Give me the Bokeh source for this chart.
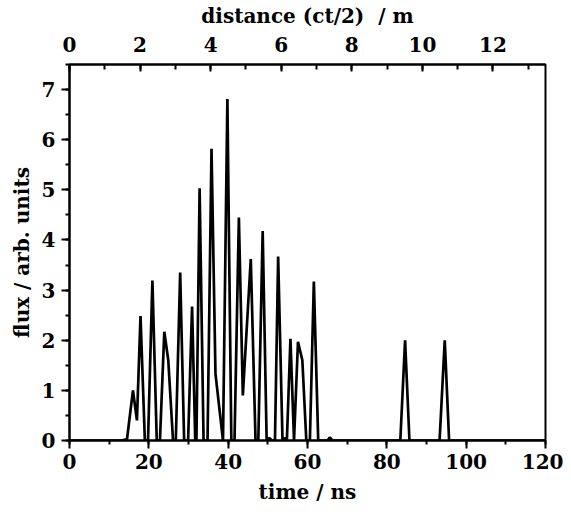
from bokeh.plotting import figure
from bokeh.models import LinearAxis, Range1d, FixedTicker
from bokeh.embed import file_html
from bokeh.resources import INLINE

# data (time in ns, flux in arb. units)
time_ns = [0, 13.2, 14.5, 16.0, 17.0, 17.9, 19.0, 19.8, 20.9, 22.0, 22.8, 23.9, 24.9, 26.1,
           26.8, 27.9, 28.9, 29.9, 30.9, 31.7, 32.0, 32.8, 33.8, 34.8, 35.8, 36.8, 38.7,
           39.8, 40.8, 41.6, 42.7, 43.7, 45.7, 46.9, 47.6, 48.7, 49.7, 50.4, 51.0, 51.8,
           52.6, 53.7, 54.2, 54.8, 55.7, 56.6, 57.6, 58.7, 59.7, 60.6, 61.6, 62.7, 65.0,
           65.6, 66.3, 83.4, 84.6, 85.7, 93.3, 94.6, 95.7, 120]
flux = [0, 0, 0.03, 1.0, 0.4, 2.48, 0, 0, 3.19, 0, 0, 2.17, 1.6, 0,
        0, 3.35, 0, 0, 2.67, 0, 0, 5.03, 0, 0, 5.82, 1.33, 0,
        6.81, 0, 0, 4.45, 0.9, 3.62, 0, 0, 4.18, 0, 0.05, 0, 0,
        3.67, 0, 0.05, 0, 2.03, 0, 1.97, 1.6, 0, 0, 3.17, 0, 0,
        0.06, 0, 0, 2.0, 0, 0, 2.0, 0, 0]

x_ticks = [0, 20, 40, 60, 80, 100, 120]
y_ticks = [0, 1, 2, 3, 4, 5, 6, 7]
dist_ticks = [0, 2, 4, 6, 8, 10, 12]
m_per_ns = 0.1124  # ct/2 in water

FONT = "DejaVu Serif"

p = figure(width=563, height=507, output_backend="svg", toolbar_location=None,
           x_range=Range1d(0, 120), y_range=Range1d(0, 7.5),
           min_border_left=69, min_border_right=18, min_border_top=64, min_border_bottom=67)
p.extra_x_ranges = {"dist": Range1d(0, 120 * m_per_ns)}

p.line(time_ns, flux, line_color="black", line_width=2.7)

p.grid.visible = False
p.outline_line_color = "black"
p.outline_line_width = 2
p.background_fill_color = "white"
p.border_fill_color = "white"

xa = p.below[0]
ya = p.left[0]
xa.axis_label = "time / ns"
ya.axis_label = "flux / arb. units"

top = LinearAxis(x_range_name="dist", axis_label="distance (ct/2) \u00a0/ m")
p.add_layout(top, "above")

for ax in [xa, ya, top]:
    ax.axis_line_width = 2
    ax.axis_line_color = "black"
    ax.major_tick_line_width = 2
    ax.minor_tick_line_width = 2
    ax.major_tick_line_color = "black"
    ax.minor_tick_line_color = "black"
    ax.major_label_text_font = FONT
    ax.major_label_text_font_style = "bold"
    ax.major_label_text_font_size = "20px"
    ax.major_label_text_color = "black"
    ax.axis_label_text_font = FONT
    ax.axis_label_text_font_style = "bold"
    ax.axis_label_text_font_size = "20px"
    ax.axis_label_text_color = "black"

xa.ticker = FixedTicker(ticks=x_ticks, minor_ticks=list(range(0, 121, 10)))
xa.major_tick_out = 8
xa.major_tick_in = 0
xa.minor_tick_out = 4
xa.minor_tick_in = 0
xa.major_label_standoff = 5
xa.axis_label_standoff = 8

ya.ticker = FixedTicker(ticks=y_ticks, minor_ticks=[i * 0.5 for i in range(0, 16)])
ya.major_tick_out = 8
ya.major_tick_in = 0
ya.minor_tick_out = 4
ya.minor_tick_in = 0
ya.major_label_standoff = 6
ya.axis_label_standoff = 5
ya.major_label_orientation = "horizontal"

top.ticker = FixedTicker(ticks=dist_ticks, minor_ticks=list(range(0, 14)))
top.major_tick_out = 0
top.major_tick_in = 7
top.minor_tick_out = 0
top.minor_tick_in = 5
top.major_label_standoff = 13
top.axis_label_standoff = 6

open("out.html", "w").write(file_html(p, INLINE))
